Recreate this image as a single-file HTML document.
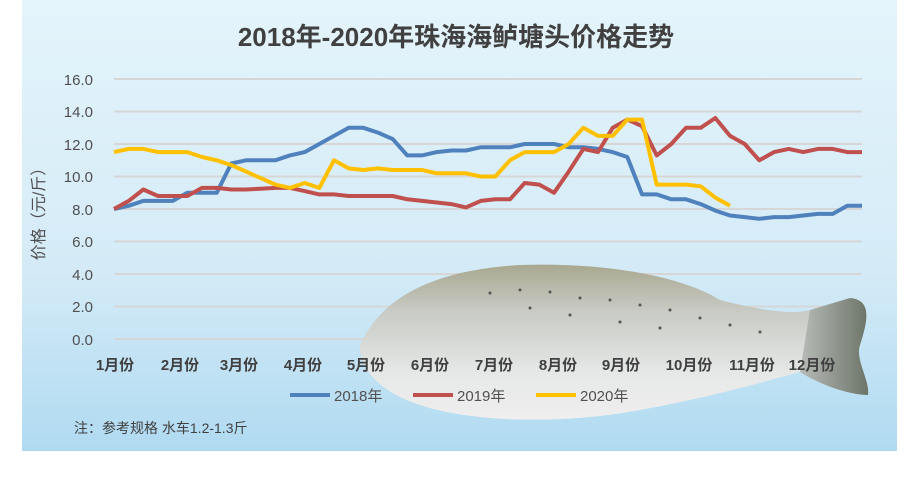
<!DOCTYPE html>
<html><head><meta charset="utf-8"><style>
html,body{margin:0;padding:0;background:#fff;}
svg{display:block;font-family:"Liberation Sans","Noto Sans CJK SC",sans-serif;}
</style></head><body>
<svg width="913" height="477" viewBox="0 0 913 477" xmlns="http://www.w3.org/2000/svg">
<defs>
<linearGradient id="bg" x1="0" y1="0" x2="0" y2="1">
<stop offset="0" stop-color="#e4f4fb"/><stop offset="0.6" stop-color="#d4ebf7"/><stop offset="1" stop-color="#b0daf1"/></linearGradient>
<linearGradient id="fish" x1="0" y1="0" x2="0" y2="1">
<stop offset="0" stop-color="#a8a890"/><stop offset="0.3" stop-color="#c8cac4"/><stop offset="0.7" stop-color="#e6e8e8"/><stop offset="1" stop-color="#f0eeee"/></linearGradient>
<linearGradient id="tail" x1="0" y1="0" x2="1" y2="0">
<stop offset="0" stop-color="#b8bcb8"/><stop offset="1" stop-color="#6c7468"/></linearGradient>
</defs>
<rect x="22" y="0" width="875" height="451" fill="url(#bg)"/>
<text x="456" y="46" text-anchor="middle" font-size="26" font-weight="bold" fill="#404040">2018年-2020年珠海海鲈塘头价格走势</text>
<g stroke="#d6d6d6" stroke-width="2">
<line x1="114" y1="79" x2="862" y2="79"/><line x1="114" y1="111.5" x2="862" y2="111.5"/><line x1="114" y1="144" x2="862" y2="144"/><line x1="114" y1="176.5" x2="862" y2="176.5"/><line x1="114" y1="209" x2="862" y2="209"/><line x1="114" y1="241.5" x2="862" y2="241.5"/><line x1="114" y1="274" x2="862" y2="274"/><line x1="114" y1="306.5" x2="862" y2="306.5"/><line x1="114" y1="339" x2="862" y2="339"/>
</g>
<g font-size="15" fill="#505050" text-anchor="end">
<text x="93" y="85">16.0</text><text x="93" y="117">14.0</text><text x="93" y="150">12.0</text><text x="93" y="182">10.0</text><text x="93" y="215">8.0</text><text x="93" y="247">6.0</text><text x="93" y="280">4.0</text><text x="93" y="312">2.0</text><text x="93" y="345">0.0</text>
</g>
<text transform="translate(44,210) rotate(-90)" text-anchor="middle" font-size="16" fill="#505050">价格（元/斤）</text>
<!-- fish -->
<g>
<path d="M360,345 C380,300 430,270 520,265 C600,262 680,275 720,300 C760,310 790,315 810,310 L850,298 C872,300 868,320 860,345 C855,360 870,380 868,395 C850,395 820,385 800,372 C770,380 720,395 640,410 C560,425 470,422 420,405 C380,392 360,370 360,345 Z" fill="url(#fish)"/>
<path d="M810,310 L850,298 C872,300 868,320 860,345 C855,360 870,380 868,395 C850,395 820,385 800,372 Z" fill="url(#tail)"/>
<g fill="#555">
<circle cx="490" cy="293" r="1.5"/><circle cx="520" cy="290" r="1.5"/><circle cx="550" cy="292" r="1.5"/><circle cx="580" cy="298" r="1.5"/><circle cx="610" cy="300" r="1.5"/><circle cx="640" cy="305" r="1.5"/><circle cx="670" cy="310" r="1.5"/><circle cx="700" cy="318" r="1.5"/><circle cx="730" cy="325" r="1.5"/><circle cx="530" cy="308" r="1.5"/><circle cx="570" cy="315" r="1.5"/><circle cx="620" cy="322" r="1.5"/><circle cx="660" cy="328" r="1.5"/><circle cx="760" cy="332" r="1.5"/>
</g>
</g>
<g font-size="15" font-weight="bold" fill="#404040" text-anchor="middle">
<text x="115" y="370">1月份</text><text x="180" y="370">2月份</text><text x="239" y="370">3月份</text><text x="303" y="370">4月份</text><text x="366" y="370">5月份</text><text x="430" y="370">6月份</text><text x="494" y="370">7月份</text><text x="558" y="370">8月份</text><text x="621" y="370">9月份</text><text x="689" y="370">10月份</text><text x="752" y="370">11月份</text><text x="812" y="370">12月份</text>
</g>
<g id="lines" fill="none" stroke-width="4" stroke-linejoin="round"></g>
<g font-size="15" fill="#505050">
<line x1="290" y1="395" x2="330" y2="395" stroke="#4f81bd" stroke-width="4"/><text x="334" y="401">2018年</text>
<line x1="413" y1="395" x2="453" y2="395" stroke="#c0504d" stroke-width="4"/><text x="457" y="401">2019年</text>
<line x1="536" y1="395" x2="576" y2="395" stroke="#ffc000" stroke-width="4"/><text x="580" y="401">2020年</text>
</g>
<text x="74" y="433" font-size="14" fill="#404040">注：参考规格  水车1.2-1.3斤</text>
<script>
var s={"#4f81bd":[8.0,8.2,8.5,8.5,8.5,9.0,9.0,9.0,10.8,11.0,11.0,11.0,11.3,11.5,12.0,12.5,13.0,13.0,12.7,12.3,11.3,11.3,11.5,11.6,11.6,11.8,11.8,11.8,12.0,12.0,12.0,11.8,11.8,11.7,11.5,11.2,8.9,8.9,8.6,8.6,8.3,7.9,7.6,7.5,7.4,7.5,7.5,7.6,7.7,7.7,8.2,8.2],
"#c0504d":[8.0,8.5,9.2,8.8,8.8,8.8,9.3,9.3,9.2,9.2,9.25,9.3,9.3,9.1,8.9,8.9,8.8,8.8,8.8,8.8,8.6,8.5,8.4,8.3,8.1,8.5,8.6,8.6,9.6,9.5,9.0,10.3,11.7,11.5,13.0,13.5,13.1,11.3,12.0,13.0,13.0,13.6,12.5,12.0,11.0,11.5,11.7,11.5,11.7,11.7,11.5,11.5],
"#ffc000":[11.5,11.7,11.7,11.5,11.5,11.5,11.2,11.0,10.7,10.3,9.9,9.5,9.3,9.6,9.3,11.0,10.5,10.4,10.5,10.4,10.4,10.4,10.2,10.2,10.2,10.0,10.0,11.0,11.5,11.5,11.5,12.0,13.0,12.5,12.5,13.5,13.5,9.5,9.5,9.5,9.4,8.7,8.2]};
var g=document.getElementById("lines"),ns="http://www.w3.org/2000/svg";
for(var c in s){var p=s[c].map(function(v,i){return (114+i*748/51).toFixed(1)+","+(339-v*16.25).toFixed(1)}).join(" ");
var e=document.createElementNS(ns,"polyline");e.setAttribute("points",p);e.setAttribute("stroke",c);g.appendChild(e);}
</script>
</svg>
</body></html>
